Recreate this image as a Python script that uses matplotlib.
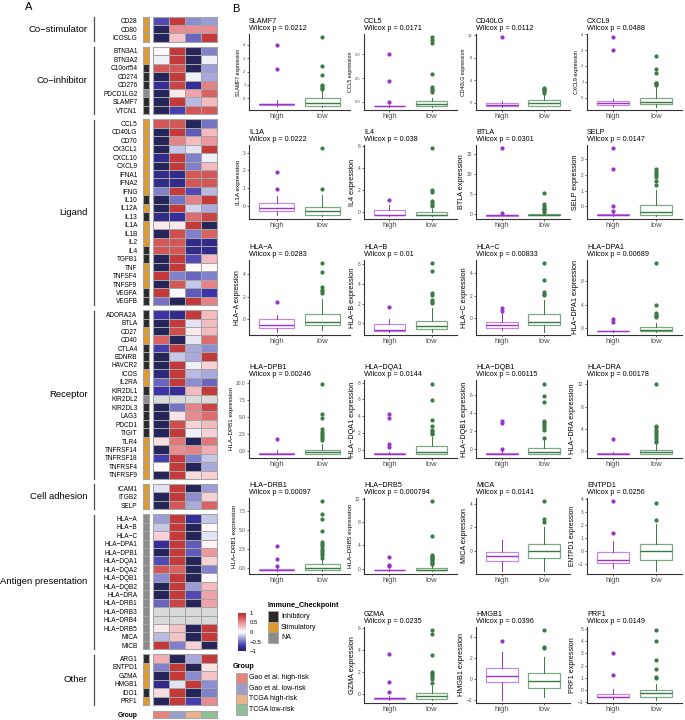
import numpy as np
import matplotlib
matplotlib.use('Agg')
import matplotlib.pyplot as plt
from matplotlib.colors import LinearSegmentedColormap, ListedColormap, Normalize
from matplotlib.cm import ScalarMappable
from matplotlib.patches import Rectangle

plt.rcParams['font.family'] = ['Liberation Sans', 'DejaVu Sans']

NA = np.nan

# ---------------- Panel A: immune checkpoint heatmap ----------------
group_names = ['Co\u2212stimulator', 'Co\u2212inhibitor', 'Ligand', 'Receptor',
               'Cell adhesion', 'Antigen presentation', 'Other']
group_genes = [
    ['CD28', 'CD80', 'ICOSLG'],
    ['BTN3A1', 'BTN3A2', 'C10orf54', 'CD274', 'CD276', 'PDCD1LG2', 'SLAMF7', 'VTCN1'],
    ['CCL5', 'CD40LG', 'CD70', 'CX3CL1', 'CXCL10', 'CXCL9', 'IFNA1', 'IFNA2', 'IFNG',
     'IL10', 'IL12A', 'IL13', 'IL1A', 'IL1B', 'IL2', 'IL4', 'TGFB1', 'TNF', 'TNFSF4',
     'TNFSF9', 'VEGFA', 'VEGFB'],
    ['ADORA2A', 'BTLA', 'CD27', 'CD40', 'CTLA4', 'EDNRB', 'HAVCR2', 'ICOS', 'IL2RA',
     'KIR2DL1', 'KIR2DL2', 'KIR2DL3', 'LAG3', 'PDCD1', 'TIGIT', 'TLR4', 'TNFRSF14',
     'TNFRSF18', 'TNFRSF4', 'TNFRSF9'],
    ['ICAM1', 'ITGB2', 'SELP'],
    ['HLA\u2212A', 'HLA\u2212B', 'HLA\u2212C', 'HLA\u2212DPA1', 'HLA\u2212DPB1', 'HLA\u2212DQA1',
     'HLA\u2212DQA2', 'HLA\u2212DQB1', 'HLA\u2212DQB2', 'HLA\u2212DRA', 'HLA\u2212DRB1',
     'HLA\u2212DRB3', 'HLA\u2212DRB4', 'HLA\u2212DRB5', 'MICA', 'MICB'],
    ['ARG1', 'ENTPD1', 'GZMA', 'HMGB1', 'IDO1', 'PRF1'],
]
# I = inhibitory, S = stimulatory, N = NA
checkpoint_codes = ['SSS', 'SSIIINII', 'SSSSSSSSSISISSSIISSSII', 'IISSIIISSINIIIISSSSS',
                    'SSS', 'N' * 16, 'ISSSIS']
heat_values = [
    [[-0.65, 0.9, -0.4, -0.35], [-1, 0.5, 0.5, 0.5], [-1, 0.25, -0.55, 0.9]],
    [[0.02, 0.9, -1, -0.45], [-0.05, 0.9, -1, -0.05], [0.75, 0.75, -1, -0.35],
     [-1, 0.9, -0.05, -0.3], [-0.8, 0.85, -0.8, 0.55], [-1, 0.1, 0.4, 0.7],
     [-1, 0.9, -0.25, 0.3], [-1, -0.7, 0.75, 0.75]],
    [[0.75, 0.75, -1, -0.5], [-1, 0.9, -0.6, 0.3], [-1, 0.55, 0.3, 0.45],
     [-1, -0.2, -0.1, 0.9], [-0.85, 0.9, -0.45, -0.05], [-1, 0.9, -0.45, 0.3],
     [-0.85, -0.85, 0.75, 0.75], [-0.85, -0.85, 0.75, 0.75], [-0.45, 0.9, -0.65, -0.25],
     [-1, -0.5, 0.55, 0.9], [-1, 0.9, -0.15, -0.3], [-0.85, -0.8, 0.65, 0.85],
     [0.1, 0.1, 0.9, -1], [-1, 0.8, -0.45, 0.7], [0.75, 0.75, -0.85, -0.85],
     [0.75, 0.75, -0.85, -0.85], [-1, 0.9, -0.65, 0.3], [-1, 0.9, 0.03, 0.03],
     [0.9, -0.45, -0.55, -0.45], [-1, 0.75, -0.2, 0.55], [0.9, -0.03, -0.6, -0.75],
     [-0.5, -1, 0.9, 0.55]],
    [[-0.75, -0.85, 0.9, 0.3], [-1, 0.9, -0.1, 0.3], [-1, 0.8, 0.1, 0.3],
     [0.7, -1, -0.08, 0.65], [-0.7, 0.9, -0.3, -0.4], [-1, -0.2, -0.3, 0.9],
     [-1, 0.9, -0.05, 0.2], [-0.9, 0.9, -0.25, -0.3], [-0.55, 0.9, -0.4, -0.55],
     [-0.75, -0.8, 0.3, 0.9], [NA, NA, NA, NA], [-1, -0.5, 0.55, 0.85],
     [-1, 0.12, 0.5, 0.65], [-1, 0.8, 0.2, 0.3], [-1, 0.9, -0.05, 0.2],
     [0.15, 0.6, -1, 0.6], [-1, 0.5, 0.55, 0.35], [-0.7, 0.9, -0.45, -0.2],
     [0.03, 0.9, -1, -0.3], [-1, 0.9, 0.15, 0.2]],
    [[-0.1, 0.9, -1, -0.35], [-1, 0.9, -0.4, 0.2], [-1, 0.75, -0.3, 0.7]],
    [[-0.35, 0.9, -0.8, -0.2], [-0.2, 0.9, -1, 0.02], [0.2, 0.9, -1, -0.1],
     [-0.8, 0.9, -0.6, 0.05], [-1, 0.9, -0.6, 0.45], [-0.65, 0.9, -1, 0.2],
     [0.75, 0.7, -1, -0.45], [-0.4, 0.9, -1, 0.02], [-1, 0.9, -0.35, 0.3],
     [-1, 0.9, -0.65, 0.4], [-0.55, 0.85, -1, 0.4], [NA, NA, NA, NA],
     [NA, NA, NA, NA], [0.1, 0.25, -1, 0.9], [-0.25, 0.25, -1, 0.9],
     [0.9, -0.45, 0.2, -1]],
    [[0.35, -1, -0.3, 0.9], [-0.45, 0.9, -1, 0.12], [-1, 0.9, -0.4, 0.25],
     [-0.85, -0.1, 0.9, -0.4], [0.15, 0.9, -1, -0.45], [-1, 0.9, -0.7, 0.5]],
]
risk_groups = ['Gao et al. high-risk', 'Gao et al. low-risk', 'TCGA high-risk', 'TCGA low-risk']
risk_colors = ['#E8837A', '#9C9DCB', '#E9B48B', '#8DBF98']
checkpoint_types = ['Inhibitory', 'Stimulatory', 'NA']
checkpoint_colors = ['#2A2A2A', '#E0992A', '#8C8C8C']

# ---------------- Panel B: boxplots ----------------
box_genes = ['SLAMF7', 'CCL5', 'CD40LG', 'CXCL9', 'IL1A', 'IL4', 'BTLA', 'SELP',
             'HLA\u2212A', 'HLA\u2212B', 'HLA\u2212C', 'HLA\u2212DPA1', 'HLA\u2212DPB1',
             'HLA\u2212DQA1', 'HLA\u2212DQB1', 'HLA\u2212DRA', 'HLA\u2212DRB1', 'HLA\u2212DRB5',
             'MICA', 'ENTPD1', 'GZMA', 'HMGB1', 'PRF1']
box_pvals = ['0.0212', '0.0171', '0.0112', '0.0488', '0.0222', '0.038', '0.0301', '0.0147',
             '0.0283', '0.01', '0.00833', '0.00689', '0.00246', '0.0144', '0.00115', '0.00178',
             '0.00097', '0.000794', '0.0141', '0.0256', '0.0235', '0.0396', '0.0149']
# (whislo, q1, median, q3, whishi)
high_box = [(-0.55, -0.5, -0.45, -0.4, -0.1), (-0.5, -0.48, -0.45, -0.4, -0.3),
            (-0.7, -0.65, -0.45, -0.1, 0.3), (-0.55, -0.45, -0.37, -0.2, -0.1),
            (-0.5, -0.27, -0.12, 0.18, 0.55), (-0.35, -0.3, -0.28, 0.15, 0.65),
            (-0.4, -0.38, -0.35, -0.3, -0.2), (-0.6, -0.58, -0.55, -0.5, -0.45),
            (-1.15, -0.8, -0.6, -0.05, 0.35), (-0.85, -0.8, -0.7, -0.05, 0.4),
            (-1.1, -0.9, -0.65, -0.3, 0.45), (-0.6, -0.55, -0.5, -0.45, -0.3),
            (-0.5, -0.48, -0.42, -0.3, 0.1), (-0.55, -0.5, -0.45, -0.4, -0.2),
            (-0.55, -0.5, -0.45, -0.4, -0.2), (-0.5, -0.45, -0.4, -0.35, -0.2),
            (-0.3, -0.25, -0.2, -0.15, 0.0), (-0.35, -0.3, -0.28, -0.25, -0.1),
            (-1.7, -0.85, -0.5, -0.15, 0.9), (-1.3, -0.9, -0.7, -0.05, 0.75),
            (-0.55, -0.5, -0.45, -0.4, -0.2), (-1.95, -0.25, 0.25, 1.05, 2.6),
            (-0.75, -0.6, -0.55, -0.35, 0.05)]
high_out = [[2.2, 4.0], [-0.02, 2.15, 5.1], [11.6], [3.0, 3.8], [0.95, 1.9], [1.05],
            [0.3, 16.4], [-0.3, 0.0, 2.4, 3.7], [1.55], [1.65], [0.6, 0.9], [1.1, 1.5],
            [1.75], [0.3, 0.65, 3.8, 4.3], [0.1, 2.9, 3.1], [2.2], [0.3, 1.25, 2.9],
            [0.35, 0.6, 1.9], [], [1.35, 3.8], [0.15, 1.1, 3.6], [3.6], [1.25, 3.0]]
low_box = [(-0.62, -0.55, -0.38, 0.0, 0.6), (-0.5, -0.45, -0.25, 0.05, 0.45),
           (-0.65, -0.6, -0.1, 0.4, 1.3), (-0.57, -0.4, -0.26, 0.0, 0.72),
           (-0.55, -0.5, -0.3, -0.08, 0.6), (-0.35, -0.3, -0.25, 0.02, 0.3),
           (-0.35, -0.3, -0.2, -0.1, 0.3), (-0.6, -0.57, -0.36, 0.1, 1.06),
           (-1.05, -0.6, -0.25, 0.4, 1.75), (-0.85, -0.6, -0.3, 0.25, 1.6),
           (-1.2, -0.6, -0.3, 0.4, 1.6), (-0.6, -0.55, -0.4, 0.15, 0.85),
           (-0.5, -0.45, -0.15, 0.2, 1.1), (-0.55, -0.5, -0.2, 0.45, 1.5),
           (-0.55, -0.5, -0.25, 0.15, 1.1), (-0.55, -0.5, -0.2, 0.25, 1.3),
           (-0.3, -0.2, 0.0, 0.5, 1.2), (-0.35, -0.3, -0.2, 0.1, 0.55),
           (-1.7, -0.6, -0.05, 0.6, 2.0), (-1.5, -0.72, 0.0, 0.5, 2.05),
           (-0.55, -0.5, -0.2, 0.05, 0.7), (-1.7, -0.85, -0.2, 0.55, 2.05),
           (-0.8, -0.6, -0.3, 0.0, 0.5)]
low_out = [[0.7, 0.8, 0.95, 1.0, 1.75, 2.4, 4.55], [1.0, 1.2, 1.4, 1.6, 2.9, 6.2, 6.5, 6.8],
           [1.8, 2.0, 2.2, 2.4, 2.6], [0.8, 0.85, 0.9, 0.95, 1.55, 1.8, 2.65],
           [0.95, 3.25], [0.5, 0.65, 0.8, 0.95, 1.85, 2.0, 5.8],
           [0.6, 0.9, 1.2, 1.5, 1.9, 2.4, 5.2], [1.35, 1.6, 1.9, 2.0, 2.1, 2.25, 2.35],
           [2.3, 2.5, 2.6, 2.9, 4.2, 5.0], [2.05, 2.2, 2.4, 2.9, 3.1, 5.3, 6.1],
           [2.1, 2.2, 2.3, 3.4, 4.9], [1.9, 2.1, 2.3, 2.5, 3.9, 11.0],
           [1.6, 1.9, 2.2, 2.5, 2.8, 3.2, 4.9, 5.4, 9.9],
           [1.9, 2.0, 2.2, 2.4, 2.9, 3.5, 5.9, 7.9],
           [1.25, 2.2, 2.4, 2.6, 2.8, 3.0, 3.2, 5.3, 5.9, 7.3],
           [1.6, 1.9, 2.3, 2.7, 3.1, 3.5, 3.9, 4.3, 4.6, 12.1],
           [1.4, 1.7, 2.0, 2.3, 2.6, 2.9, 3.2, 3.5, 4.9, 6.5, 7.2, 8.8],
           [0.8, 1.0, 1.2, 1.4, 1.6, 1.8, 2.0, 2.2, 2.4, 5.6, 11.5],
           [2.45, 2.7, 4.2], [2.35, 3.7], [0.95, 1.3, 1.5, 1.7, 1.9, 2.0, 3.5, 5.5, 5.8],
           [2.9, 3.0, 4.6], [0.95, 1.05, 1.75, 2.45, 4.05, 4.9]]
box_yticks = [[0, 1, 2, 3, 4], [0, 2.5, 5], [0, 4, 8, 12], [0, 1, 2, 3, 4], [0, 1, 2, 3],
              [0, 2, 4, 6], [0, 5, 10, 15], [0, 1, 2, 3], [0, 2, 4], [0, 2, 4, 6], [0, 2, 4],
              [0, 4, 8], [0, 2.5, 5, 7.5, 10], [0, 2, 4, 6, 8], [0, 2, 4, 6], [0, 4, 8, 12],
              [0, 2.5, 5, 7.5], [0, 4, 8, 12], [0, 2, 4], [-1, 0, 1, 2, 3, 4], [0, 2, 4, 6],
              [-2, 0, 2, 4], [-1, 0, 1, 2, 3, 4, 5]]
groups_x = ['high', 'low']

# ---------------- layout (pixels) ----------------
W, H = 685, 720
fig = plt.figure(figsize=(W / 100, H / 100), dpi=100)


def px_axes(x, y, w, h):
    return fig.add_axes([x / W, 1 - (y + h) / H, w / W, h / H])


over = px_axes(0, 0, W, H)
over.set_xlim(0, W)
over.set_ylim(H, 0)
over.axis('off')

heat_cmap = LinearSegmentedColormap.from_list(
    'hm', [(0, '#25255A'), (0.12, '#3A2FA6'), (0.3, '#8D8DD0'), (0.5, '#FFFFFF'),
           (0.7, '#EFA3AA'), (0.85, '#D96262'), (1, '#BA2828')])
heat_cmap.set_bad('#DADADA')
ck_cmap = ListedColormap(checkpoint_colors)
grid_col = '#A5A5A5'

row_h, gap, top = 8.45, 4.9, 16.5
hm_x, hm_w = 152.5, 64
an_x, an_w = 142.7, 6
label_x = 137.5
y = top
for name, genes, codes, vals in zip(group_names, group_genes, checkpoint_codes, heat_values):
    n = len(genes)
    gh = n * row_h
    ax = px_axes(hm_x, y, hm_w, gh)
    data = np.ma.masked_invalid(np.array(vals, dtype=float))
    ax.pcolormesh(data, cmap=heat_cmap, vmin=-1, vmax=1, edgecolors=grid_col, linewidth=0.6)
    ax.set_ylim(n, 0)
    ax.set_xticks([])
    ax.set_yticks(np.arange(n) + 0.5, genes)
    ax.tick_params(axis='y', length=0, pad=(hm_x - label_x) * 0.72, labelsize=4.7)
    for s in ax.spines.values():
        s.set_color(grid_col)
        s.set_linewidth(0.8)

    aa = px_axes(an_x, y, an_w, gh)
    ck = np.array([['ISN'.index(c)] for c in codes])
    aa.pcolormesh(ck, cmap=ck_cmap, vmin=-0.5, vmax=2.5, edgecolors=grid_col, linewidth=0.6)
    aa.set_ylim(n, 0)
    aa.set_xticks([])
    aa.set_yticks([])
    for s in aa.spines.values():
        s.set_color(grid_col)
        s.set_linewidth(0.8)

    over.text(87.5, y + gh / 2, name, ha='right', va='center', fontsize=6.8)
    over.plot([94.5, 94.5], [y + 0.5, y + gh - 0.5], color='#4D4D4D', lw=0.9)
    y += gh + gap

# group annotation bar
ga = px_axes(hm_x, 710.8, hm_w, 7)
ga.pcolormesh(np.arange(len(risk_groups))[None, :], cmap=ListedColormap(risk_colors),
              vmin=-0.5, vmax=len(risk_groups) - 0.5, edgecolors=grid_col, linewidth=0.6)
ga.set_xticks([])
ga.set_yticks([0.5], ['Group'], fontweight='bold')
ga.tick_params(axis='y', length=0, pad=(hm_x - label_x) * 0.72, labelsize=4.8)
for s in ga.spines.values():
    s.set_color(grid_col)
    s.set_linewidth(0.8)

over.text(29, 7, 'A', fontsize=8, ha='center', va='center')
over.text(236, 9, 'B', fontsize=8, ha='center', va='center')

# colour bar legend
cax = px_axes(237.7, 613, 8, 38)
cb = fig.colorbar(ScalarMappable(norm=Normalize(-1, 1), cmap=heat_cmap), cax=cax,
                  ticks=[-1, -0.5, 0, 0.5, 1])
cb.ax.set_yticklabels(['\u22121', '\u22120.5', '0', '0.5', '1'])
cb.ax.tick_params(length=0, labelsize=4.3, pad=3)
cb.outline.set_visible(False)

# Immune_Checkpoint legend
over.text(268, 605.5, 'Immune_Checkpoint', fontsize=5.2, fontweight='bold', va='center')
for i, (lab, col) in enumerate(zip(checkpoint_types, checkpoint_colors)):
    yy = 611 + i * 10.7
    over.add_patch(Rectangle((268.3, yy), 10, 10.7, facecolor=col, edgecolor=grid_col, lw=0.6))
    over.text(281, yy + 5.4, lab, fontsize=5.0, va='center')

# Group legend
over.text(233, 667, 'Group', fontsize=5.2, fontweight='bold', va='center')
for i, (lab, col) in enumerate(zip(risk_groups, risk_colors)):
    yy = 672.5 + i * 10.6
    over.add_patch(Rectangle((236.5, yy), 10.5, 10.6, facecolor=col, edgecolor=grid_col, lw=0.6))
    over.text(249.3, yy + 5.3, lab, fontsize=5.0, va='center')

# ---------------- panel B boxplots ----------------
col_x = [249, 364, 476, 587]
col_w = [101, 93, 94, 95]
row_top = [34, 145, 260, 380, 498, 627]
row_ht = [76, 74, 75, 78, 76, 76]
ylab_size = [3.8, 3.8, 3.8, 3.8, 4.6, 5.2, 5.2, 5.2, 4.8, 5.2, 5.2, 5.2,
             4.4, 5.2, 5.2, 5.2, 4.4, 4.5, 5.2, 4.8, 5.2, 5.2, 5.2]
tick_size = [3.0] * 4 + [3.5] * 19
purple, purple_light = '#9933CC', '#C08CDD'
green, green_light = '#3B7A45', '#7FA886'

for i, gene in enumerate(box_genes):
    if i < 20:
        r, c = divmod(i, 4)
    else:
        r, c = 5, i - 19
    ax = px_axes(col_x[c], row_top[r], col_w[c], row_ht[r])
    for pos, st, out, col, light in [(1, high_box[i], high_out[i], purple, purple_light),
                                     (2, low_box[i], low_out[i], green, green_light)]:
        stats = [dict(whislo=st[0], q1=st[1], med=st[2], q3=st[3], whishi=st[4], fliers=out)]
        ax.bxp(stats, positions=[pos], widths=0.75, patch_artist=True, showcaps=False,
               boxprops=dict(facecolor='white', edgecolor=light, linewidth=0.9),
               whiskerprops=dict(color=col, linewidth=0.7),
               medianprops=dict(color=col, linewidth=1.0),
               flierprops=dict(marker='o', markersize=2.0, markerfacecolor=col,
                               markeredgecolor=col, linestyle='none'))
    ax.set_xlim(0.4, 2.6)
    ax.set_xticks([1, 2], groups_x)
    yt = box_yticks[i]
    if any(isinstance(t, float) for t in yt):
        ylabels = [f'{t:.1f}' for t in yt]
    else:
        ylabels = [str(t).replace('-', '\u2212') for t in yt]
    ax.set_yticks(yt, ylabels)
    for s in ['top', 'right']:
        ax.spines[s].set_visible(False)
    for s in ['left', 'bottom']:
        ax.spines[s].set_color('#333333')
        ax.spines[s].set_linewidth(0.8)
    ax.tick_params(axis='y', labelsize=tick_size[i], length=1.5, width=0.5, pad=1,
                   colors='#333333', labelcolor='#4D4D4D')
    ax.tick_params(axis='x', labelsize=5.6, length=1.5, width=0.5, pad=1,
                   colors='#333333', labelcolor='#4D4D4D')
    ax.set_ylabel(f'{gene} expression', fontsize=ylab_size[i], labelpad=1.5)
    ax.set_title(f'{gene}\nWilcox p = {box_pvals[i]}', loc='left', fontsize=5.2,
                 pad=3, linespacing=1.05)

fig.savefig('out.png', dpi=100)
